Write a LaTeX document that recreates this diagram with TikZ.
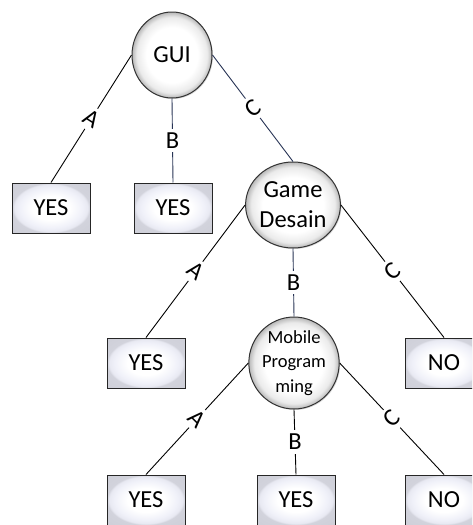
\documentclass[tikz,border=0pt]{standalone}
\usepackage{fontspec}
\setmainfont{Carlito}
\usetikzlibrary{shapes.geometric,shadows}
\definecolor{navy}{RGB}{40,52,85}
\pgfdeclareradialshading{ballshade}{\pgfpoint{0bp}{0bp}}{%
  color(0bp)=(white); color(16bp)=(white); color(22bp)=(black!8);
  color(25bp)=(black!28); color(50bp)=(black!28)}
\pgfdeclareradialshading{boxshade}{\pgfpoint{0bp}{0bp}}{%
  color(0bp)=(white); color(12bp)=(white); color(20bp)=(rgb,255:red,240;green,241;blue,249);
  color(23.5bp)=(rgb,255:red,232;green,233;blue,242);
  color(25bp)=(rgb,255:red,210;green,211;blue,220); color(50bp)=(rgb,255:red,200;green,201;blue,210)}
\begin{document}
\begin{tikzpicture}[x=1pt,y=-1pt,
  dec/.style={ellipse, draw=black!80, line width=1pt, minimum width=80pt, minimum height=86pt,
    inner sep=0pt, shading=ballshade, align=center,
    font=\fontsize{24.5}{30}\selectfont,
    drop shadow={shadow xshift=1pt, shadow yshift=-1pt, opacity=0.3}},
  leaf/.style={rectangle, draw=black!85, line width=1pt, minimum width=78pt, minimum height=50pt,
    inner sep=0pt, shading=boxshade,
    font=\fontsize{24.5}{30}\selectfont,
    drop shadow={shadow xshift=1pt, shadow yshift=-1pt, opacity=0.3}},
  edge/.style={line width=0.9pt, draw=black},
  lab/.style={fill=white, inner sep=4pt, font=\fontsize{24.5}{30}\selectfont}
]
\useasboundingbox (0,0) rectangle (472,525);
\clip (0,0) rectangle (472,525);

\node[dec] (gui) at (172,55) {GUI};
\node[leaf] (yes1) at (51,208) {YES};
\node[leaf] (yes2) at (173,208) {YES};
\node[dec] (game) at (293,205) {Game\\Desain};
\node[leaf] (yes3) at (146,363) {YES};
\node[dec, font=\fontsize{18.5}{24.5}\selectfont] (mob) at (294,363) {Mobile\\Program\\ming};
\node[leaf] (no1) at (444,363) {NO};
\node[leaf] (yes4) at (146,500) {YES};
\node[leaf] (yes5) at (296,500) {YES};
\node[leaf] (no2) at (444,500) {NO};

\draw[edge] (gui.west) -- node[lab, rotate=-32.4] {A} (yes1.north);
\draw[edge, draw=navy] (gui.south) -- node[lab] {B} (yes2.north);
\draw[edge, draw=navy] (gui.east) -- node[lab, rotate=37.2] {C} (game.north);

\draw[edge] (game.west) -- node[lab, rotate=-38.7] {A} (yes3.north);
\draw[edge, draw=navy] (game.south) -- node[lab] {B} (mob.north);
\draw[edge] (game.east) -- node[lab, rotate=40.2] {C} (no1.north);

\draw[edge] (mob.west) -- node[lab, rotate=-44.5] {A} (yes4.north);
\draw[edge] (mob.south) -- node[lab] {B} (yes5.north);
\draw[edge] (mob.east) -- node[lab, rotate=44.5] {C} (no2.north);
\end{tikzpicture}
\end{document}
